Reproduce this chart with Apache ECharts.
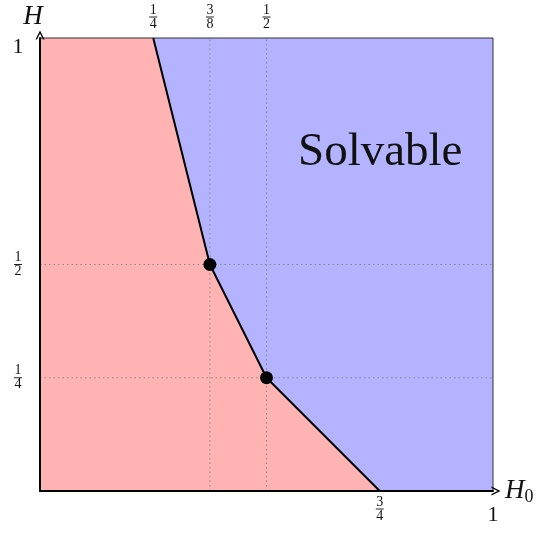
<!DOCTYPE html>
<html>
<head>
<meta charset="utf-8">
<script src="https://cdn.jsdelivr.net/npm/echarts@6/dist/echarts.min.js"></script>
<style>html,body{margin:0;padding:0;background:#fff}#c{width:544px;height:535px}</style>
</head>
<body>
<div id="c"></div>
<script>
// Boundary between unsolvable (red) and solvable (blue) regions
const boundaryX = [0.25, 0.375, 0.5, 0.75];
const boundaryY = [1, 0.5, 0.25, 0];
// Marked corner points
const pointX = [0.375, 0.5];
const pointY = [0.5, 0.25];
// Tick labels
const topTicks = [0.25, 0.375, 0.5];
const topTickLabels = [['1','4'], ['3','8'], ['1','2']];
const bottomTicks = [0.75, 1];
const bottomTickLabels = [['3','4'], ['1']];
const leftTicks = [0.25, 0.5, 1];
const leftTickLabels = [['1','4'], ['1','2'], ['1']];
// Dotted guide lines
const guideX = [0.375, 0.5];
const guideY = [0.5, 0.25];
const regionText = 'Solvable';

const serif = '"Liberation Serif", "DejaVu Serif", serif';
const fracRich = {
  n: {fontFamily: serif, fontSize: 14, lineHeight: 12, color: '#111', align: 'center'},
  bar: {width: 8, height: 1, lineHeight: 2, backgroundColor: '#222', fontSize: 1, align: 'center'},
  d: {fontFamily: serif, fontSize: 14, lineHeight: 12, color: '#111', align: 'center'}
};
function fmt(vals, labels, onePad) {
  return function (v) {
    let i = vals.findIndex(t => Math.abs(t - v) < 1e-9);
    if (i < 0) return '';
    const l = labels[i];
    if (l.length === 1) return '{' + onePad + '|' + l[0] + '}';
    return '{n|' + l[0] + '}\n{bar| }\n{d|' + l[1] + '}';
  };
}

const boundary = boundaryX.map((x, i) => [x, boundaryY[i]]);
const points = pointX.map((x, i) => [x, pointY[i]]);

const chart = echarts.init(document.getElementById('c'), null, {renderer: 'canvas'});
const arrow = 'path://M0,10 L5,0 L10,10 L8.4,10 L5,3.2 L1.6,10 Z';
chart.setOption({
  animation: false,
  grid: {left: 40, right: 51, top: 38, bottom: 44},
  xAxis: [
    {type: 'value', min: 0, max: 1, position: 'bottom', z: 10,
     axisLine: {show: true, lineStyle: {color: '#000', width: 2}, symbol: ['none', arrow], symbolSize: [12, 9], symbolOffset: [0, 3]},
     axisTick: {show: false}, splitLine: {show: false},
     axisLabel: {show: true, customValues: bottomTicks, margin: 5, formatter: fmt(bottomTicks, bottomTickLabels, 'oneB'),
       rich: Object.assign({}, fracRich, {oneB: {fontFamily: serif, fontSize: 22, color: '#111', padding: [8, 0, 0, 0]}})},
     name: '{h|H}{s|0}', nameLocation: 'end', nameGap: 12,
     nameTextStyle: {rich: {h: {fontFamily: serif, fontStyle: 'italic', fontSize: 27, color: '#111'}, s: {fontFamily: serif, fontSize: 18, color: '#111', padding: [12, 0, 0, 0]}}}
    },
    {type: 'value', min: 0, max: 1, position: 'top',
     axisLine: {show: false}, axisTick: {show: false}, splitLine: {show: false},
     axisLabel: {show: true, customValues: topTicks, margin: 8, formatter: fmt(topTicks, topTickLabels, 'one'), rich: fracRich}
    }
  ],
  yAxis: [
    {type: 'value', min: 0, max: 1, z: 10,
     axisLine: {show: true, lineStyle: {color: '#000', width: 2}, symbol: ['none', arrow], symbolSize: [12, 9], symbolOffset: [0, 3]},
     axisTick: {show: false}, splitLine: {show: false},
     axisLabel: {show: true, customValues: leftTicks, margin: 22, align: 'center', formatter: fmt(leftTicks, leftTickLabels, 'oneL'),
       rich: Object.assign({}, fracRich, {oneL: {fontFamily: serif, fontSize: 22, color: '#111', padding: [18, 0, 0, 0]}})},
     name: 'H', nameLocation: 'end', nameGap: 8,
     nameTextStyle: {fontFamily: serif, fontStyle: 'italic', fontSize: 27, color: '#111', align: 'center', padding: [0, 14, 0, 0]}
    }
  ],
  series: [
    {
      type: 'custom', z: 1, silent: true, data: [0],
      renderItem: function (params, api) {
        const red = [[0, 0], [0, 1]].concat(boundary).map(p => api.coord(p));
        const blue = boundary.slice().concat([[1, 0], [1, 1]]).map(p => api.coord(p));
        const guideStyle = {stroke: '#888', lineWidth: 1, lineDash: [1.5, 3], fill: null};
        const children = [
          {type: 'polygon', shape: {points: red}, style: {fill: '#ffb3b3'}},
          {type: 'polygon', shape: {points: blue}, style: {fill: '#b3b3ff'}}
        ];
        guideX.forEach(x => {
          const a = api.coord([x, 0]), b = api.coord([x, 1]);
          children.push({type: 'line', shape: {x1: a[0], y1: a[1], x2: b[0], y2: b[1]}, style: guideStyle});
        });
        guideY.forEach(y => {
          const a = api.coord([0, y]), b = api.coord([1, y]);
          children.push({type: 'line', shape: {x1: a[0], y1: a[1], x2: b[0], y2: b[1]}, style: guideStyle});
        });
        const frame = [[0, 1], [1, 1], [1, 0]].map(p => api.coord(p));
        children.push({type: 'polyline', shape: {points: frame}, style: {stroke: '#333', lineWidth: 1, fill: null}});
        return {type: 'group', children: children};
      }
    },
    {type: 'line', z: 3, data: boundary, symbol: 'none', lineStyle: {color: '#000', width: 2}, silent: true},
    {type: 'scatter', z: 4, data: points, symbolSize: 13, itemStyle: {color: '#000', opacity: 1}, silent: true}
  ],
  graphic: [
    {type: 'text', left: 298, top: 129, z: 10, style: {text: regionText, fontFamily: serif, fontSize: 47, fill: '#111'}}
  ]
});
</script>
</body>
</html>
